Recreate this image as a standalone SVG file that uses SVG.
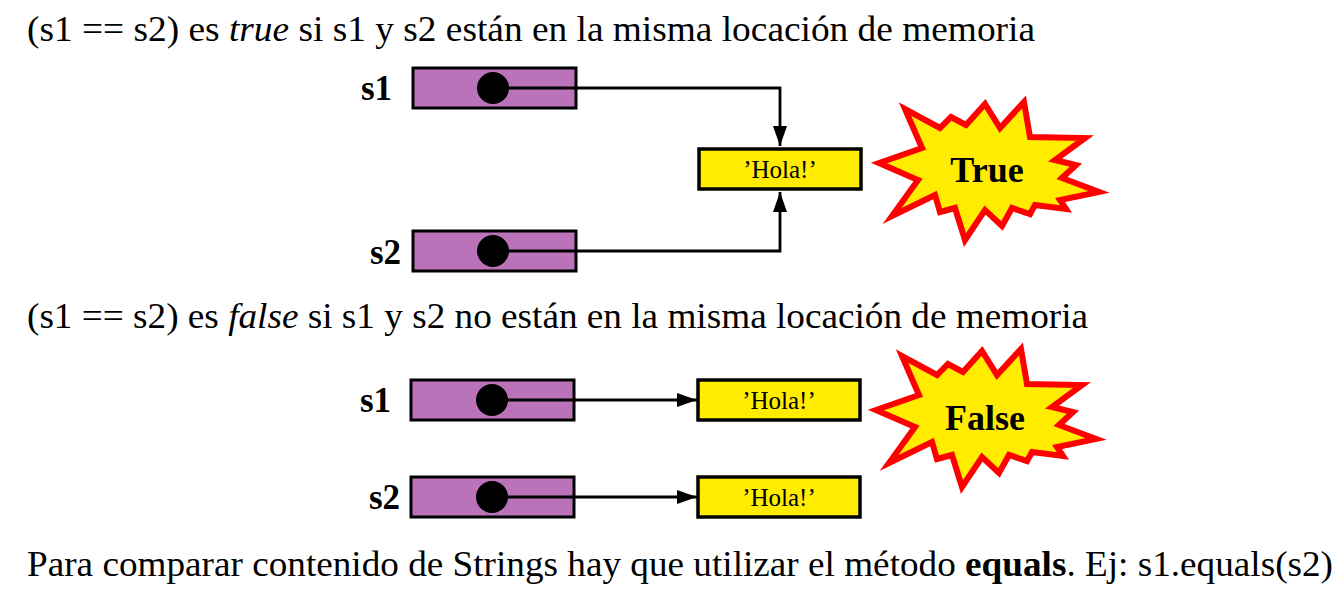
<svg xmlns="http://www.w3.org/2000/svg" width="1336" height="603" viewBox="0 0 1336 603">
<style>
.t{font-family:"Liberation Serif","Times New Roman",serif;font-size:35px;fill:#000}
.lbl{font-family:"Liberation Serif",serif;font-size:35px;font-weight:bold;fill:#000}
.ptr{fill:#BA72B8;stroke:#000;stroke-width:3}
.str{fill:#FFEC00;stroke:#000;stroke-width:3.5}
.dot{fill:#000}
.htxt{font-family:"Liberation Serif",serif;font-size:25px;fill:#000;text-anchor:middle}
.star{fill:#FFEC00;stroke:#FF0000;stroke-width:6;stroke-linejoin:miter;stroke-miterlimit:6}
.stxt{font-family:"Liberation Serif",serif;font-size:36px;font-weight:bold;fill:#000;text-anchor:middle}
.con{fill:none;stroke:#000;stroke-width:2.8}
</style>
<defs>
<marker id="ah" markerWidth="20" markerHeight="14" refX="20" refY="7" orient="auto" markerUnits="userSpaceOnUse">
<path d="M0,0 L20,7 L0,14 Z" fill="#000"/>
</marker>
<polygon id="burst" points="879,163 922,148 905,109 940,128 951,117 966,125 985,104 1000,128 1024,102 1030,137 1085,138 1055,160 1076,165 1062,178 1099,192 1060,200 1066,209 1035,205 1030,214 1012,208 1002,226 985,210 965,240 955,208 940,212 935,195 892,216 918,180"/>
</defs>

<text class="t" x="27" y="41" textLength="1008" lengthAdjust="spacingAndGlyphs">(s1 == s2) es <tspan font-style="italic">true</tspan> si s1 y s2 están en la misma locación de memoria</text>
<text class="t" x="27" y="328" textLength="1061" lengthAdjust="spacingAndGlyphs">(s1 == s2) es <tspan font-style="italic">false</tspan> si s1 y s2 no están en la misma locación de memoria</text>
<text class="t" x="27" y="576" textLength="1306" lengthAdjust="spacingAndGlyphs">Para comparar contenido de Strings hay que utilizar el método <tspan font-weight="bold">equals</tspan>. Ej: s1.equals(s2)</text>

<g id="s1-top">
<text class="lbl" x="361" y="100">s1</text>
<rect class="ptr" x="413" y="68" width="163" height="40"/>
<circle class="dot" cx="493" cy="88" r="16"/>
</g>
<g id="s2-top">
<text class="lbl" x="370" y="264">s2</text>
<rect class="ptr" x="413" y="231" width="163" height="40"/>
<circle class="dot" cx="493" cy="251" r="16"/>
</g>
<g id="hola-top">
<rect class="str" x="699" y="149" width="162" height="40"/>
<text class="htxt" x="780" y="178">’Hola!’</text>
</g>
<g id="true-burst">
<use href="#burst" class="star"/>
<text class="stxt" x="987" y="182">True</text>
</g>

<g id="s1-bottom">
<text class="lbl" x="360" y="412">s1</text>
<rect class="ptr" x="411" y="380" width="163" height="40"/>
<circle class="dot" cx="492" cy="400" r="16"/>
</g>
<g id="s2-bottom">
<text class="lbl" x="369" y="509">s2</text>
<rect class="ptr" x="411" y="477" width="163" height="40"/>
<circle class="dot" cx="492" cy="497" r="16"/>
</g>
<g id="hola-b1">
<rect class="str" x="698" y="380" width="162" height="40"/>
<text class="htxt" x="779" y="409">’Hola!’</text>
</g>
<g id="hola-b2">
<rect class="str" x="698" y="477" width="162" height="40"/>
<text class="htxt" x="779" y="506">’Hola!’</text>
</g>
<g id="false-burst">
<use href="#burst" class="star" transform="translate(-3,247)"/>
<text class="stxt" x="985" y="430">False</text>
</g>

<g id="connectors">
<polyline class="con" points="494,88 780,88 780,146" marker-end="url(#ah)"/>
<polyline class="con" points="494,251 780,251 780,192" marker-end="url(#ah)"/>
<line class="con" x1="492" y1="400" x2="697" y2="400" marker-end="url(#ah)"/>
<line class="con" x1="492" y1="497" x2="697" y2="497" marker-end="url(#ah)"/>
</g>
</svg>
